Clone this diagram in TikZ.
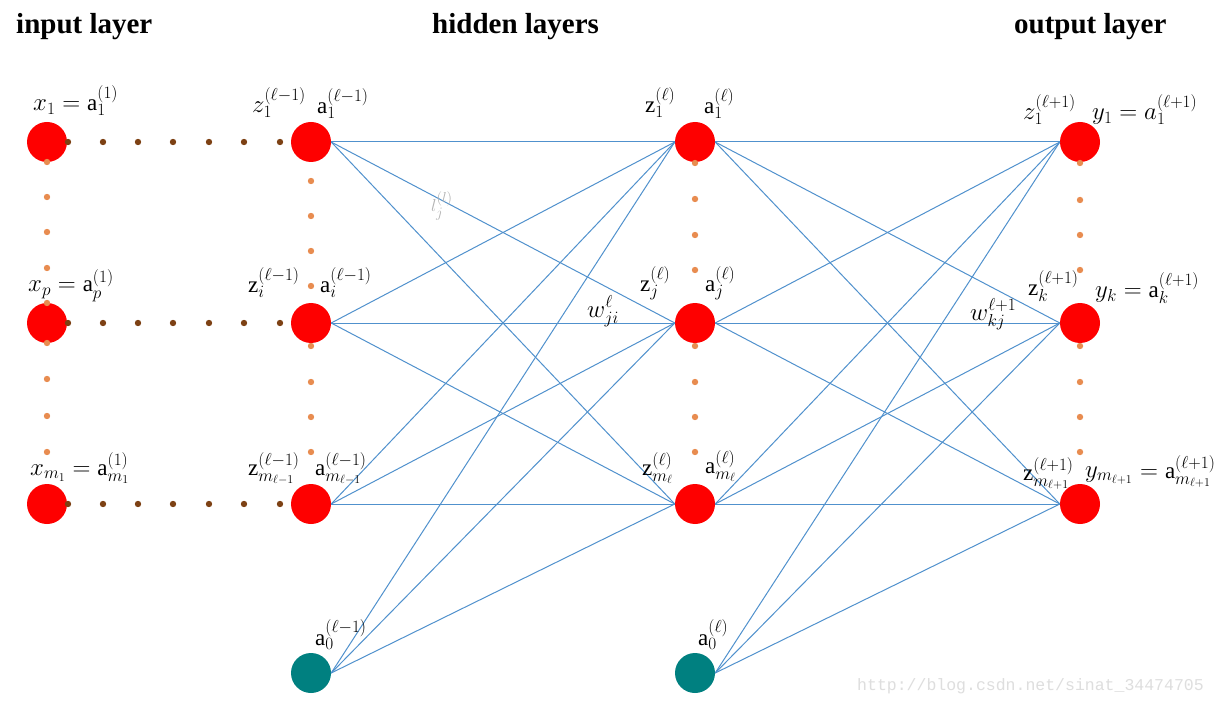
\documentclass[tikz,border=0pt]{standalone}
\usepackage{fontspec}
\setmainfont{Liberation Serif}
\setmonofont{Liberation Mono}
\definecolor{nred}{RGB}{254,0,0}
\definecolor{nteal}{RGB}{0,128,128}
\definecolor{wire}{RGB}{80,145,205}
\definecolor{hdot}{RGB}{125,65,20}
\definecolor{vdot}{RGB}{232,140,80}
\definecolor{wm}{RGB}{222,222,222}
\begin{document}
\begin{tikzpicture}[x=1pt,y=-1pt,
  neuron/.style={circle,fill=nred,minimum size=40pt,inner sep=0pt},
  biasn/.style={circle,fill=nteal,minimum size=40pt,inner sep=0pt},
  wireline/.style={draw=wire,line width=1pt},
  title/.style={font=\fontsize{29}{32}\selectfont\bfseries,anchor=base west,inner sep=0pt},
  lab/.style={font=\fontsize{23}{25}\selectfont,anchor=base west,inner sep=0pt},
  smalllab/.style={font=\fontsize{19}{21}\selectfont,anchor=base west,inner sep=0pt,text=gray!60}]
\useasboundingbox[fill=white] (0,0) rectangle (1218,703);

% titles
\node[title] (t1) at (16,34) {input layer};
\node[title] (t2) at (432,34) {hidden layers};
\node[title] (t3) at (1014,34) {output layer};

% neurons
\node[neuron] (i1) at (47,142) {};
\node[neuron] (i2) at (47,323) {};
\node[neuron] (i3) at (47,504) {};
\node[neuron] (h1) at (311,142) {};
\node[neuron] (h2) at (311,323) {};
\node[neuron] (h3) at (311,504) {};
\node[biasn] (hb) at (311,673) {};
\node[neuron] (g1) at (695,142) {};
\node[neuron] (g2) at (695,323) {};
\node[neuron] (g3) at (695,504) {};
\node[biasn] (gb) at (695,673) {};
\node[neuron] (o1) at (1080,142) {};
\node[neuron] (o2) at (1080,323) {};
\node[neuron] (o3) at (1080,504) {};

% connections
\foreach \a in {h1,h2,h3,hb}
  \foreach \b in {g1,g2,g3}
    \draw[wireline] (\a.east) -- (\b.west);
\foreach \a in {g1,g2,g3,gb}
  \foreach \b in {o1,o2,o3}
    \draw[wireline] (\a.east) -- (\b.west);

% horizontal dots
\foreach \y in {142,323,504}
  \foreach \x in {68,103,138,173,209,244,280}
    \fill[hdot] (\x,\y) circle (3.2pt);

% vertical dots
\foreach \y in {162,197,232,268,303,343,379,416,452}
  \fill[vdot] (47,\y) circle (3.2pt);
\foreach \y in {181,216,251,286,346,382,417,452}
  \fill[vdot] (311,\y) circle (3.2pt);
\foreach \y in {163,199,235,270,346,382,417,452}
  \fill[vdot] (695,\y) circle (3.2pt);
\foreach \y in {163,200,235,270,346,382,417,452}
  \fill[vdot] (1080,\y) circle (3.2pt);

% labels row 1
\node[lab] (lx1) at (33,111) {$x_1=\mathrm{a}_1^{(1)}$};
\node[lab] (lz11) at (252,113) {$z_1^{(\ell-1)}$};
\node[lab] (la11) at (317,114) {$\mathrm{a}_1^{(\ell-1)}$};
\node[lab] (lz12) at (645,113) {$\mathrm{z}_1^{(\ell)}$};
\node[lab] (la12) at (704,114) {$\mathrm{a}_1^{(\ell)}$};
\node[lab] (lz13) at (1023,120) {$z_1^{(\ell+1)}$};
\node[lab] (ly1) at (1092,120) {$y_1=a_1^{(\ell+1)}$};

% labels row 2
\node[lab] (lxp) at (28,292) {$x_p=\mathrm{a}_p^{(1)}$};
\node[lab] (lzi) at (248,293) {$\mathrm{z}_i^{(\ell-1)}$};
\node[lab] (lai) at (320,293) {$\mathrm{a}_i^{(\ell-1)}$};
\node[lab] (lzj) at (640,292) {$\mathrm{z}_j^{(\ell)}$};
\node[lab] (laj) at (705,292) {$\mathrm{a}_j^{(\ell)}$};
\node[lab] (lwji) at (587,317) {$w_{ji}^{\ell}$};
\node[lab] (lwkj) at (970,320) {$w_{kj}^{\ell+1}$};
\node[lab] (lzk) at (1028,296) {$\mathrm{z}_k^{(\ell+1)}$};
\node[lab] (lyk) at (1095,298) {$y_k=\mathrm{a}_k^{(\ell+1)}$};

% labels row 3
\node[lab] (lxm) at (30,475) {$x_{m_1}=\mathrm{a}_{m_1}^{(1)}$};
\node[lab] (lzm1) at (248,475) {$\mathrm{z}_{m_{\ell-1}}^{(\ell-1)}$};
\node[lab] (lam1) at (315,475) {$\mathrm{a}_{m_{\ell-1}}^{(\ell-1)}$};
\node[lab] (lzm2) at (642,475) {$\mathrm{z}_{m_\ell}^{(\ell)}$};
\node[lab] (lam2) at (705,473) {$\mathrm{a}_{m_\ell}^{(\ell)}$};
\node[lab] (lzm3) at (1023,480) {$\mathrm{z}_{m_{\ell+1}}^{(\ell+1)}$};
\node[lab] (lym) at (1085,477) {$y_{m_{\ell+1}}$};
\node[lab] (lam3) at (1140,478) {$=\mathrm{a}_{m_{\ell+1}}^{(\ell+1)}$};

% bias labels
\node[lab] (lb1) at (315,645) {$\mathrm{a}_0^{(\ell-1)}$};
\node[lab] (lb2) at (698,645) {$\mathrm{a}_0^{(\ell)}$};

% faint label
\node[smalllab] (llj) at (431,212) {$l_j^{(l)}$};

% watermark
\node[font=\fontsize{16.5}{18}\selectfont\ttfamily,text=wm,anchor=base west,inner sep=0pt] (wmk) at (857,690) {http://blog.csdn.net/sinat\_34474705};
\end{tikzpicture}
\end{document}
